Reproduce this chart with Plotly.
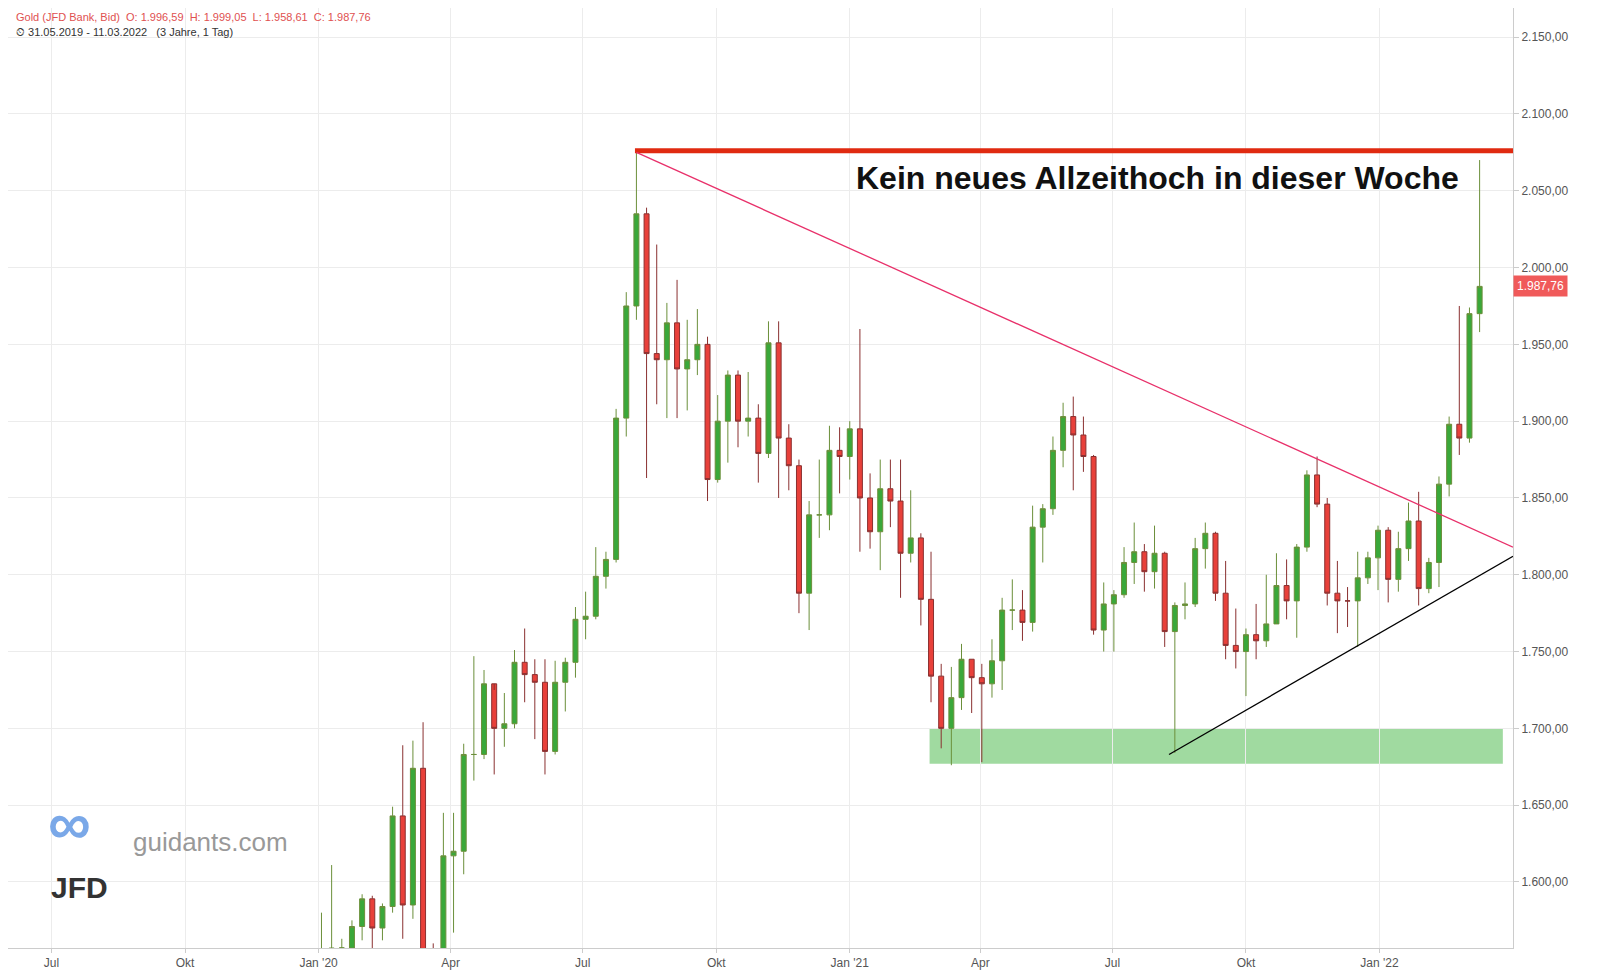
import pandas as pd
import plotly.graph_objects as go

# weekly candles (Fridays)
dates = pd.date_range("2020-01-03", periods=115, freq="W-FRI")
closes = [1552, 1557, 1557, 1571, 1589, 1570, 1584, 1643, 1585, 1674, 1530, 1498, 1617, 1620, 1683, 1683,
          1729, 1700, 1703, 1743, 1735, 1730, 1685, 1730, 1743, 1771, 1773, 1799, 1810, 1902, 1975, 2035,
          1944, 1940, 1964, 1934, 1940, 1950, 1862, 1900, 1930, 1900, 1902, 1879, 1951, 1889, 1871, 1788,
          1839, 1839, 1881, 1877, 1895,
          1850, 1828, 1856, 1848, 1814, 1824, 1784, 1734, 1700, 1720, 1745, 1733, 1729, 1744, 1777, 1777,
          1769, 1831, 1843, 1881, 1903, 1891, 1877, 1764, 1781, 1787, 1808, 1815, 1802, 1814, 1763, 1780,
          1781, 1817, 1827, 1788, 1754, 1750, 1761, 1757, 1768, 1793, 1783, 1818, 1865, 1846, 1788, 1783,
          1783, 1798, 1811, 1829,
          1797, 1817, 1835, 1791, 1808, 1859, 1898, 1889, 1970, 1987.76]
highs = [1580, 1611, 1563, 1575, 1592, 1591, 1586, 1649, 1689, 1692, 1704, 1560, 1645, 1645, 1690, 1747,
         1738, 1725, 1723, 1751, 1765, 1745, 1745, 1744, 1746, 1779, 1789, 1818, 1815, 1908, 1984, 2075,
         2039, 2015, 1977, 1992, 1966, 1973, 1955, 1917, 1933, 1933, 1932, 1911, 1965, 1965, 1898, 1875,
         1848, 1875, 1897, 1896, 1900,
         1960, 1866, 1875, 1875, 1875, 1855, 1827, 1815, 1742, 1740, 1755, 1745, 1742, 1758, 1785, 1797,
         1790, 1845, 1846, 1890, 1912, 1916, 1903, 1878, 1795, 1790, 1818, 1834, 1820, 1832, 1815, 1782,
         1795, 1824, 1834, 1828, 1809, 1778, 1765, 1781, 1800, 1814, 1810, 1820, 1868, 1877, 1850, 1809,
         1792, 1815, 1815, 1832,
         1831, 1828, 1847, 1854, 1811, 1864, 1903, 1975, 1974, 2070]
lows = [1517, 1537, 1545, 1550, 1562, 1548, 1562, 1580, 1563, 1576, 1504, 1451, 1482, 1567, 1605, 1666,
        1680, 1670, 1688, 1700, 1717, 1693, 1670, 1683, 1711, 1733, 1758, 1771, 1791, 1808, 1890, 1966,
        1863, 1911, 1902, 1902, 1907, 1930, 1848, 1860, 1873, 1883, 1890, 1860, 1876, 1850, 1855, 1775,
        1764, 1824, 1829, 1853, 1862,
        1815, 1817, 1803, 1831, 1785, 1808, 1767, 1717, 1687, 1676, 1712, 1710, 1678, 1720, 1725, 1764,
        1757, 1763, 1808, 1839, 1870, 1855, 1867, 1761, 1750, 1750, 1785, 1794, 1789, 1791, 1753, 1684,
        1771, 1779, 1804, 1783, 1745, 1739, 1721, 1745, 1753, 1771, 1771, 1759, 1815, 1844, 1780, 1762,
        1766, 1753, 1794, 1790,
        1782, 1789, 1809, 1780, 1788, 1792, 1851, 1878, 1886, 1958]
opens = [1517] + closes[:-1]

tick_dates = ["2019-07-01", "2019-10-01", "2020-01-01", "2020-04-01", "2020-07-01", "2020-10-01",
              "2021-01-01", "2021-04-01", "2021-07-01", "2021-10-01", "2022-01-01"]
tick_labels = ["Jul", "Okt", "Jan '20", "Apr", "Jul", "Okt", "Jan '21", "Apr", "Jul", "Okt", "Jan '22"]
price_ticks = [1600, 1650, 1700, 1750, 1800, 1850, 1900, 1950, 2000, 2050, 2100, 2150]

x_end = "2022-04-03"

fig = go.Figure()
fig.add_trace(go.Candlestick(
    x=dates, open=opens, high=highs, low=lows, close=closes,
    increasing=dict(line=dict(color="#6b8f3a", width=1), fillcolor="#3aa83a"),
    decreasing=dict(line=dict(color="#8a3030", width=1), fillcolor="#e8403a"),
    whiskerwidth=0, showlegend=False, hoverinfo="skip"))

# support zone
fig.add_shape(type="rect", x0="2021-02-25", x1="2022-03-27", y0=1677, y1=1700,
              fillcolor="#a0daa0", line_width=0, layer="below")
# all-time-high line
fig.add_shape(type="line", x0="2020-08-06", x1=x_end, y0=2076, y1=2076,
              line=dict(color="#e02a10", width=5))
# falling trend line
fig.add_shape(type="line", x0="2020-08-07", x1=x_end, y0=2075, y1=1818,
              line=dict(color="#e8306a", width=1.3))
# rising trend line
fig.add_shape(type="line", x0="2021-08-09", x1=x_end, y0=1683, y1=1812,
              line=dict(color="black", width=1.3))

fig.add_annotation(x="2021-08-01", y=2058, text="<b>Kein neues Allzeithoch in dieser Woche</b>",
                   showarrow=False, font=dict(size=32, color="#111", family="Liberation Sans"))
fig.add_annotation(xref="paper", yref="paper", x=0.004, y=0.999, xanchor="left", yanchor="top",
                   text="Gold (JFD Bank, Bid)  O: 1.996,59  H: 1.999,05  L: 1.958,61  C: 1.987,76",
                   showarrow=False, font=dict(size=11, color="#e05050"))
fig.add_annotation(xref="paper", yref="paper", x=0.004, y=0.983, xanchor="left", yanchor="top",
                   text="⏲ 31.05.2019 - 11.03.2022   (3 Jahre, 1 Tag)",
                   showarrow=False, font=dict(size=11, color="#333"))
fig.add_annotation(xref="paper", yref="y", x=1.0, y=1987.76, xanchor="left",
                   text="1.987,76", showarrow=False, bgcolor="#f05a5a",
                   font=dict(size=12, color="white"), borderpad=3)
fig.add_annotation(xref="paper", yref="paper", x=0.025, y=0.095, xanchor="left",
                   text="<b>∞</b>", showarrow=False, font=dict(size=60, color="#7aa8e8"))
fig.add_annotation(xref="paper", yref="paper", x=0.082, y=0.095, xanchor="left",
                   text="guidants.com", showarrow=False, font=dict(size=26, color="#999"))
fig.add_annotation(xref="paper", yref="paper", x=0.027, y=0.045, xanchor="left",
                   text="<b>JFD</b>", showarrow=False, font=dict(size=30, color="#333"))

fig.update_layout(
    width=1623, height=973, margin=dict(l=0, r=118, t=0, b=33),
    paper_bgcolor="white", plot_bgcolor="white",
    font=dict(family="Liberation Sans", size=12, color="#555"),
    separators=",.",
    xaxis=dict(range=["2019-06-01", x_end], tickvals=tick_dates, ticktext=tick_labels,
               showgrid=True, gridcolor="#ececec", rangeslider=dict(visible=False),
               ticks="outside", tickcolor="#ccc", ticklen=4, showline=True, linecolor="#ccc"),
    yaxis=dict(range=[1557, 2169], side="right", tickvals=price_ticks, tickformat=",.2f",
               showgrid=True, gridcolor="#ececec", ticks="outside", tickcolor="#ccc", ticklen=5,
               showline=True, linecolor="#ccc"),
)
fig.write_html("out.html")
